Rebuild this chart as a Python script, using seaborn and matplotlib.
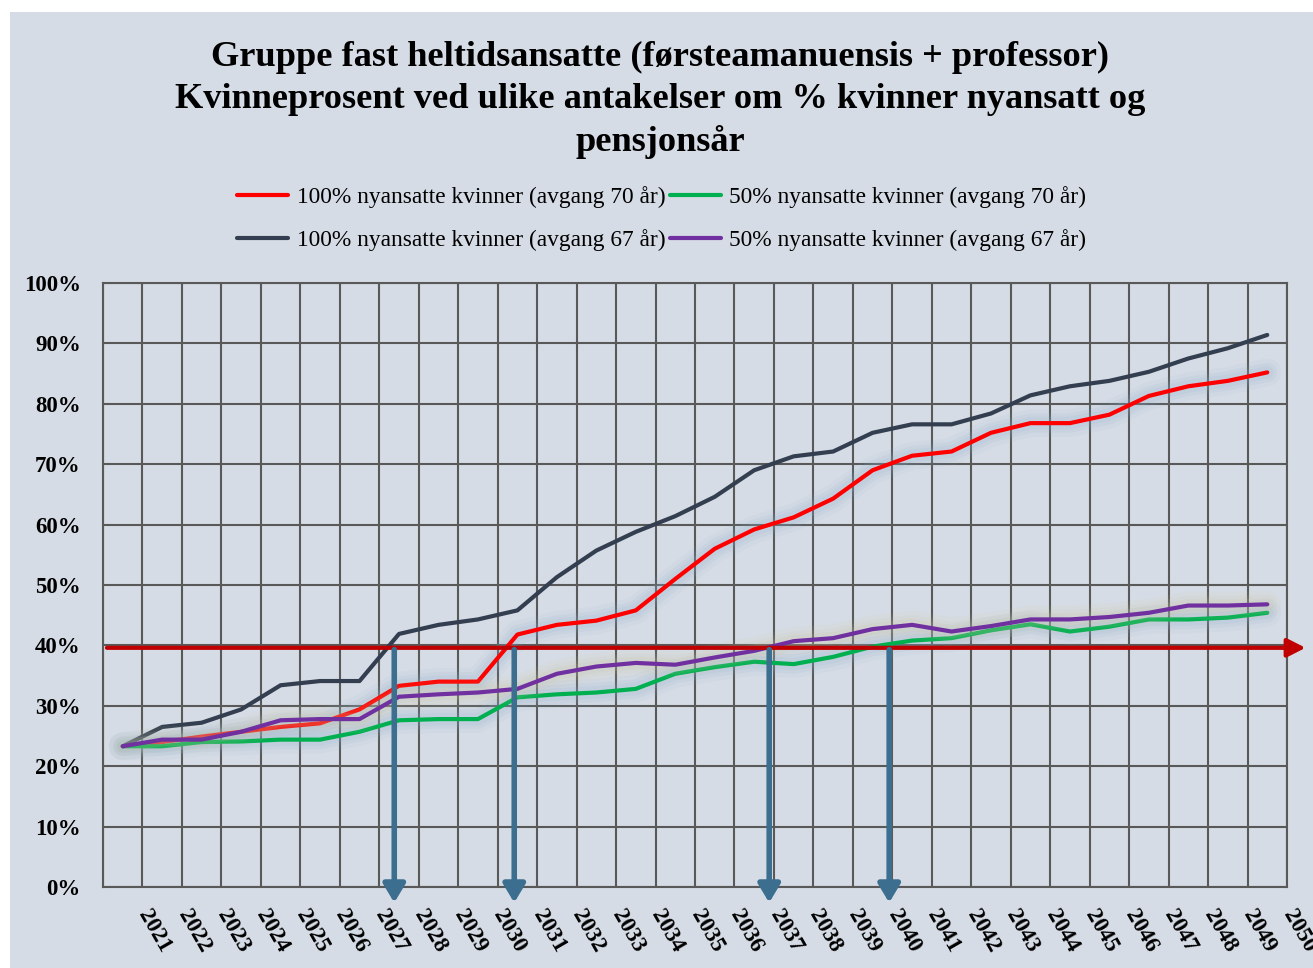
import matplotlib
matplotlib.use("Agg")
import matplotlib.pyplot as plt
import matplotlib.patheffects as pe
from matplotlib.patches import Rectangle
from matplotlib.lines import Line2D
from matplotlib.transforms import ScaledTranslation, blended_transform_factory
import seaborn as sns
import pandas as pd
import numpy as np


years = list(range(2021, 2051))

# kvinneandel (%) per år, lest av figuren
red_100_70 = [23.3, 24.0, 24.9, 25.7, 26.5, 27.1, 29.4, 33.3, 34.0, 34.0,
              41.8, 43.4, 44.1, 45.8, 51.0, 56.0, 59.2, 61.2, 64.3, 69.0,
              71.4, 72.1, 75.2, 76.8, 76.8, 78.2, 81.3, 82.9, 83.8, 85.2]
dark_100_67 = [23.3, 26.5, 27.2, 29.4, 33.4, 34.1, 34.1, 41.9, 43.4, 44.3,
               45.8, 51.3, 55.7, 58.8, 61.4, 64.6, 69.0, 71.3, 72.1, 75.2,
               76.6, 76.6, 78.4, 81.4, 82.9, 83.8, 85.3, 87.5, 89.2, 91.4]
green_50_70 = [23.3, 23.3, 24.0, 24.1, 24.4, 24.4, 25.7, 27.6, 27.8, 27.8,
               31.4, 31.9, 32.2, 32.8, 35.3, 36.4, 37.3, 36.9, 38.1, 39.8,
               40.8, 41.2, 42.5, 43.5, 42.3, 43.1, 44.3, 44.3, 44.6, 45.4]
purple_50_67 = [23.3, 24.4, 24.4, 25.7, 27.6, 27.8, 27.8, 31.5, 31.9, 32.2,
                32.8, 35.3, 36.5, 37.1, 36.8, 38.0, 39.1, 40.7, 41.2, 42.7,
                43.4, 42.3, 43.2, 44.3, 44.3, 44.7, 45.4, 46.6, 46.6, 46.8]

labels = ["100% nyansatte kvinner (avgang 70 år)",
          "100% nyansatte kvinner (avgang 67 år)",
          "50% nyansatte kvinner (avgang 70 år)",
          "50% nyansatte kvinner (avgang 67 år)"]
colors = ["#FF0000", "#333F50", "#00B050", "#7030A0"]
glows = ["#8FB0CF", None, "#8FB0CF", "#C8C39A"]

# 40%-målet og årene der kurvene krysser det
target_level = 39.6
crossing_years = [2027.88, 2030.92, 2037.38, 2040.42]

title = ("Gruppe fast heltidsansatte (førsteamanuensis + professor)\n"
         "Kvinneprosent ved ulike antakelser om % kvinner nyansatt og\n"
         "pensjonsår")

bg = "#D6DCE5"
grid_col = "#595959"

df = pd.DataFrame({
    "year": years * 4,
    "value": red_100_70 + dark_100_67 + green_50_70 + purple_50_67,
    "series": sum([[lab] * len(years) for lab in labels], []),
})

sns.set_style("white")
plt.rcParams["font.family"] = ["Liberation Serif", "DejaVu Serif"]
plt.rcParams["text.color"] = "black"
plt.rcParams["xtick.color"] = "black"
plt.rcParams["ytick.color"] = "black"

fig = plt.figure(figsize=(13.13, 9.68), dpi=100, facecolor="white")
fig.patches.append(Rectangle((10 / 1313, 0), 1, 1 - 12 / 968,
                             transform=fig.transFigure, facecolor=bg,
                             edgecolor="none", zorder=-10))

ax = fig.add_axes([103 / 1313, 81 / 968, 1184 / 1313, 604 / 968])
ax.set_facecolor(bg)

sns.lineplot(data=df, x="year", y="value", hue="series", hue_order=labels,
             palette=colors, linewidth=3, legend=False, ax=ax, zorder=4)

for line, glow in zip(ax.lines, glows):
    line.set_solid_capstyle("round")
    if glow:
        line.set_path_effects([
            pe.Stroke(linewidth=20, foreground=glow, alpha=0.07),
            pe.Stroke(linewidth=14, foreground=glow, alpha=0.10),
            pe.Stroke(linewidth=9, foreground=glow, alpha=0.14),
            pe.Normal()])

ax.set_xlim(2020.5, 2050.5)
ax.set_ylim(0, 100)
ax.set_yticks(range(0, 101, 10))
ax.set_yticklabels([f"{v}%" for v in range(0, 101, 10)],
                   fontsize=16.5, fontweight="bold")
ax.set_xticks(years)
ax.set_xticks(np.arange(2020.5, 2051, 1), minor=True)
ax.tick_params(axis="x", which="both", length=0, labelbottom=False)
ax.tick_params(axis="y", length=0, pad=16)
ax.grid(which="minor", axis="x", color=grid_col, linewidth=1.5)
ax.grid(which="major", axis="y", color=grid_col, linewidth=1.5)
ax.grid(which="major", axis="x", visible=False)
for sp in ax.spines.values():
    sp.set_color(grid_col)
    sp.set_linewidth(1.5)
ax.set_xlabel("")
ax.set_ylabel("")

# årstall, skrått under aksen
lab_tr = blended_transform_factory(ax.transData, ax.transAxes) + \
    ScaledTranslation(0.11, -0.19, fig.dpi_scale_trans)
for yr in years:
    ax.text(yr, 0, str(yr), transform=lab_tr, rotation=-60,
            ha="left", va="top", fontsize=16.5, fontweight="bold",
            clip_on=False)

# rød 40%-linje med pil
ax.annotate("", xy=(2050.97, target_level), xytext=(2020.6, target_level),
            arrowprops=dict(arrowstyle="-|>,head_length=0.55,head_width=0.28",
                            mutation_scale=20, color="#C00000", lw=3,
                            shrinkA=0, shrinkB=0),
            annotation_clip=False, zorder=5)

# blå piler ned til årstallene
for yr in crossing_years:
    ax.annotate("", xy=(yr, -2.6), xytext=(yr, target_level - 0.3),
                arrowprops=dict(arrowstyle="-|>,head_length=0.55,head_width=0.33",
                                mutation_scale=20, color="#3B6E8F", lw=4,
                                shrinkA=0, shrinkB=0),
                annotation_clip=False, zorder=6)

fig.text(0.503, 1 - 100 / 968, title, ha="center", va="center",
         multialignment="center", fontsize=26.2, fontweight="bold",
         linespacing=1.34)

handles = [Line2D([], [], color=c, lw=3, solid_capstyle="round")
           for c in colors]
fig.legend(handles=handles, labels=labels, ncol=2, frameon=False,
           loc="center", bbox_to_anchor=(0.504, 1 - 218.5 / 968),
           fontsize=16.8, handlelength=2.2, handletextpad=0.35,
           columnspacing=0.2, labelspacing=0.9)

fig.savefig("out.png", dpi=100, facecolor=fig.get_facecolor())
